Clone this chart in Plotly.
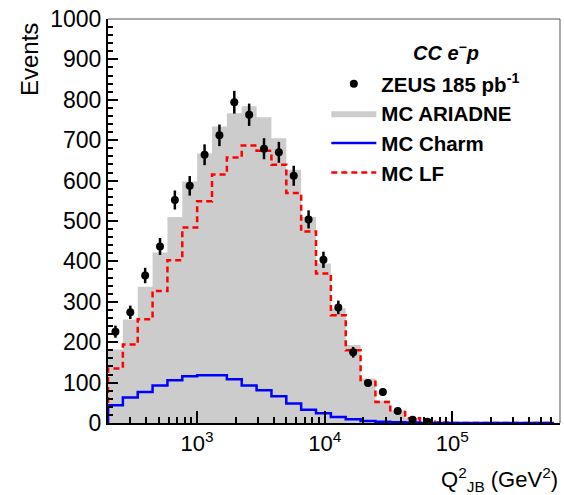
import numpy as np
import plotly.graph_objects as go

# ---- data ----
q2_min = 200.0
bin_width_dec = 0.1165          # log10 width of each bin
n_bins = 30
mc_ariadne = [182, 256, 337, 422, 510, 598, 667, 734, 767, 784, 757, 705, 627, 510, 395,
              284, 193, 110, 56, 31, 13, 4, 1, 0, 0, 0, 0, 0, 0, 0]
mc_lf = [135, 194, 257, 327, 403, 484, 549, 615, 657, 687, 674, 639, 569, 474, 370,
         267, 180, 102, 52, 27, 12, 3, 1, 0, 0, 0, 0, 0, 0, 0]
mc_charm = [44, 63, 77, 93, 106, 116, 118, 118, 108, 93, 81, 66, 48, 33, 24,
            15, 9, 5, 3, 2, 1, 0, 0, 0, 0, 0, 0, 0, 0, 0]
zeus_data = [226, 274, 365, 437, 552, 587, 664, 712, 794, 763, 679, 670, 612, 504, 404,
             286, 175, 99, 77, 30, 8, 3]
y_ticks = list(range(0, 1001, 100))
x_tick_vals = [1e3, 1e4, 1e5]
x_tick_text = ["10<sup>3</sup>", "10<sup>4</sup>", "10<sup>5</sup>"]

edges = [q2_min * 10 ** (bin_width_dec * k) for k in range(n_bins + 1)]
centers = [q2_min * 10 ** (bin_width_dec * (k + 0.5)) for k in range(len(zeus_data))]


def step(vals):
    xs = [edges[0]] + edges
    ys = [0] + list(vals) + [vals[-1]]
    return xs, ys


FONT = "Liberation Sans, Arial, Helvetica, sans-serif"
fig = go.Figure()

xs, ys = step(mc_ariadne)
fig.add_trace(go.Scatter(x=xs, y=ys, mode="lines", line=dict(shape="hv", width=0, color="#cccccc"),
                         fill="tozeroy", fillcolor="#cccccc", name="<b>MC ARIADNE</b>",
                         legendrank=2, legendgroup="b"))
xs, ys = step(mc_lf)
fig.add_trace(go.Scatter(x=xs, y=ys, mode="lines", line=dict(shape="hv", width=2.5, color="#ff0000", dash="6px,4px"),
                         name="<b>MC LF</b>", legendrank=4, legendgroup="d"))
xs, ys = step(mc_charm)
fig.add_trace(go.Scatter(x=xs, y=ys, mode="lines", line=dict(shape="hv", width=2.5, color="#0000ff"),
                         name="<b>MC Charm</b>", legendrank=3, legendgroup="c"))
fig.add_trace(go.Scatter(x=centers, y=zeus_data, mode="markers",
                         marker=dict(color="black", size=8, symbol="circle"),
                         error_y=dict(type="data", array=list(np.sqrt(zeus_data)), color="black",
                                      thickness=2.5, width=0),
                         name="<b>ZEUS 185 pb<sup>-1</sup></b>", legendrank=1, legendgroup="a"))

fig.update_layout(
    width=564, height=495,
    margin=dict(l=108, r=4, t=19, b=72),
    plot_bgcolor="white", paper_bgcolor="white",
    font=dict(family=FONT, color="black", size=21),
    showlegend=True,
    legend=dict(x=0.483, y=0.889, xanchor="left", yanchor="top",
                font=dict(family=FONT, size=20.5, color="black"),
                bgcolor="rgba(0,0,0,0)", itemwidth=45, tracegroupgap=0,
                traceorder="grouped"),
    xaxis=dict(type="log", range=[np.log10(200), np.log10(7.0e5)],
               tickmode="array", tickvals=x_tick_vals, ticktext=x_tick_text,
               ticks="inside", ticklen=12, tickwidth=1.5, tickcolor="black",
               showline=True, linecolor="black", linewidth=2, showgrid=False, zeroline=False,
               tickfont=dict(size=22, family=FONT),
               minor=dict(tickmode="array",
                          tickvals=[m * 10 ** d for d in range(2, 6) for m in range(2, 10)
                                    if 200 <= m * 10 ** d <= 7e5],
                          ticks="inside", ticklen=6, tickwidth=1.5, tickcolor="black", showgrid=False)),
    yaxis=dict(range=[0, 1000], tickmode="array", tickvals=y_ticks,
               ticks="inside", ticklen=10, tickwidth=1.5, tickcolor="black",
               showline=True, linecolor="black", linewidth=2, showgrid=False, zeroline=False,
               tickfont=dict(size=23, family=FONT),
               minor=dict(dtick=20, ticks="inside", ticklen=5, tickwidth=1.5, tickcolor="black", showgrid=False)),
)

# frame top/right
fig.add_shape(type="line", xref="paper", yref="paper", x0=0, x1=1, y0=1, y1=1,
              line=dict(color="#555555", width=1))
fig.add_shape(type="line", xref="paper", yref="paper", x0=1, x1=1, y0=0, y1=1,
              line=dict(color="#555555", width=1))

fig.add_annotation(text="<b><i>CC e<sup>−</sup>p</i></b>", xref="paper", yref="paper",
                   x=(446 - 108) / 452, y=(423 - 52) / 404, xanchor="center", yanchor="middle",
                   showarrow=False, font=dict(family=FONT, size=20))
fig.add_annotation(text="Q<sup>2</sup><sub>JB</sub> (GeV<sup>2</sup>)", xref="paper", yref="paper",
                   x=1.0, y=(423 - 480) / 404, xanchor="right", yanchor="middle",
                   showarrow=False, font=dict(family=FONT, size=22))
fig.add_annotation(text="Events", xref="paper", yref="paper", textangle=-90,
                   x=(30 - 108) / 452, y=(423 - 60) / 404, xanchor="center", yanchor="middle",
                   showarrow=False, font=dict(family=FONT, size=24))

fig.write_html("out.html", config={"displayModeBar": False},
               post_script="document.body.style.margin='0px';")
